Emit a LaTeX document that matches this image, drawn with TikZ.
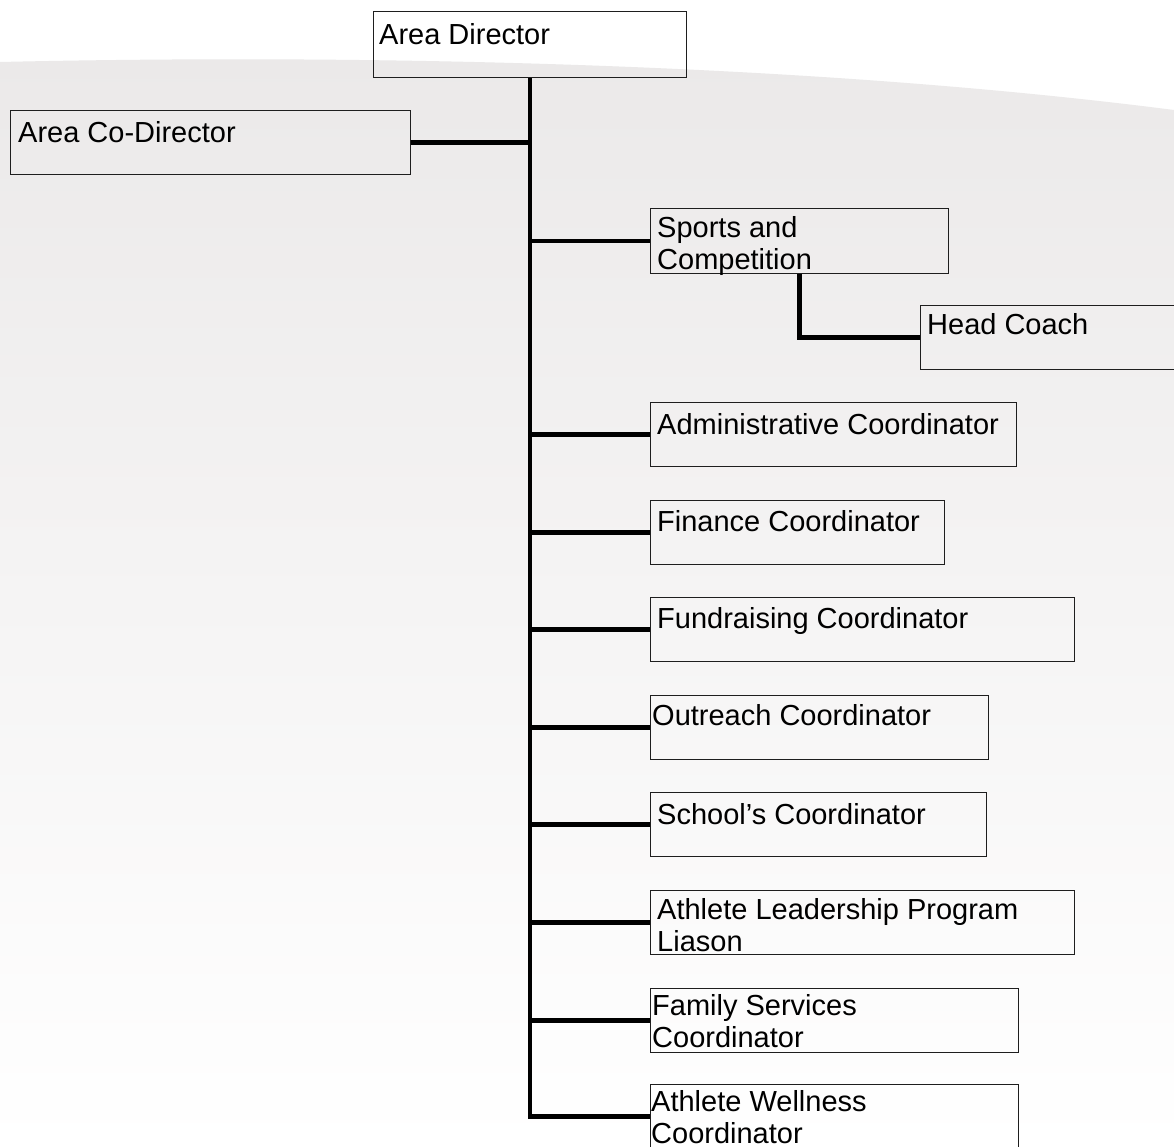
\documentclass[tikz,border=0pt]{standalone}
\usepackage{fontspec}
\setmainfont{Liberation Sans}
\definecolor{bgtop}{HTML}{EBE9E9}
\definecolor{bgmid}{HTML}{F3F2F2}
\definecolor{boxline}{HTML}{1E1E1E}
\tikzset{
  orgbox/.style={draw=boxline, line width=1.4pt, anchor=north west, inner sep=0pt, minimum height=64pt},
  lbl/.style={anchor=north west, inner sep=0pt, align=left, font=\fontsize{29}{32}\selectfont},
  conn/.style={draw=black, line width=4.5pt}
}
\begin{document}
\begin{tikzpicture}[x=1pt,y=-1pt]
\clip (0,0) rectangle (1174,1147);
\useasboundingbox (0,0) rectangle (1174,1147);
\fill[white] (0,0) rectangle (1174,1147);
% background band
\shade[top color=bgtop, middle color=bgmid, bottom color=white]
  (0,62) .. controls (350,54) and (800,62) .. (1174,110) -- (1174,1147) -- (0,1147) -- cycle;

% boxes
\node[orgbox, minimum width=313pt, minimum height=66pt] (ad) at (373,11) {};
\node[orgbox, minimum width=400pt] (cd) at (10,110) {};
\node[orgbox, minimum width=298pt, minimum height=65pt] (sc) at (650,208) {};
\node[orgbox, minimum width=270pt] (hc) at (920,305) {};
\node[orgbox, minimum width=366pt] (adm) at (650,402) {};
\node[orgbox, minimum width=294pt] (fin) at (650,500) {};
\node[orgbox, minimum width=424pt] (fun) at (650,597) {};
\node[orgbox, minimum width=338pt] (out) at (650,695) {};
\node[orgbox, minimum width=336pt] (sch) at (650,792) {};
\node[orgbox, minimum width=424pt] (alp) at (650,890) {};
\node[orgbox, minimum width=368pt] (fs) at (650,988) {};
\node[orgbox, minimum width=368pt] (aw) at (650,1084) {};

% labels
\node[lbl] (adT) at (379,21.6) {\strut Area Director};
\node[lbl] (cdT) at (18,119.6) {\strut Area Co-Director};
\node[lbl] (scT) at (657,214.6) {\strut Sports and\\Competition};
\node[lbl] (hcT) at (927,311.6) {\strut Head Coach};
\node[lbl] (admT) at (657,411.6) {\strut Administrative Coordinator};
\node[lbl] (finT) at (657,508.6) {\strut Finance Coordinator};
\node[lbl] (funT) at (657,605.6) {\strut Fundraising Coordinator};
\node[lbl] (outT) at (652,702.6) {\strut Outreach Coordinator};
\node[lbl] (schT) at (657,801.6) {\strut School's Coordinator};
\node[lbl] (alpT) at (657,896.6) {\strut Athlete Leadership Program\\Liason};
\node[lbl] (fsT) at (652,992.6) {\strut Family Services\\Coordinator};
\node[lbl] (awT) at (651,1088.6) {\strut Athlete Wellness\\Coordinator};

% connectors
\draw[conn] (ad.south) |- (aw.west);
\draw[conn] (ad.south |- cd.east) -- (cd.east);
\draw[conn] (ad.south |- sc.west) -- (sc.west);
\draw[conn] (sc.south) |- (hc.west);
\draw[conn] (ad.south |- adm.west) -- (adm.west);
\draw[conn] (ad.south |- fin.west) -- (fin.west);
\draw[conn] (ad.south |- fun.west) -- (fun.west);
\draw[conn] (ad.south |- out.west) -- (out.west);
\draw[conn] (ad.south |- sch.west) -- (sch.west);
\draw[conn] (ad.south |- alp.west) -- (alp.west);
\draw[conn] (ad.south |- fs.west) -- (fs.west);
\end{tikzpicture}
\end{document}
